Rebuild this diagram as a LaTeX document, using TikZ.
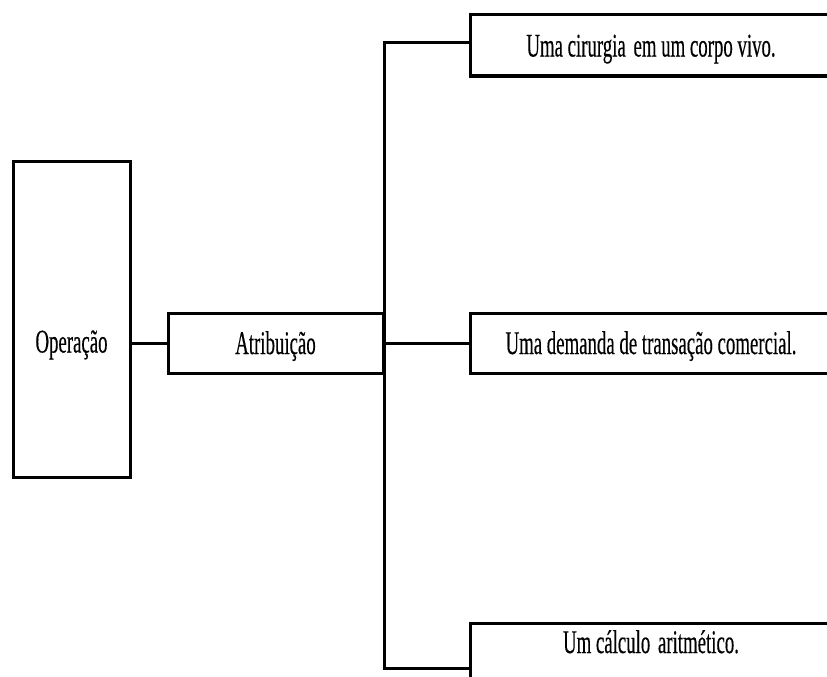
\documentclass[tikz,border=0pt]{standalone}
\usepackage{fontspec}
\newfontfamily\boxfont{Liberation Serif}[FakeStretch=0.57, FakeBold=0.3]
\begin{document}
\begin{tikzpicture}[x=1pt,y=-1pt,
  box/.style={draw=black, line width=3pt, inner sep=0pt, align=center,
    font=\boxfont\fontsize{33}{38}\selectfont, text height=22pt, text depth=0pt},
  link/.style={draw=black, line width=3pt}]
  \useasboundingbox (0,0) rectangle (827,677);
  \clip (0,0) rectangle (827,677);

  % root and first level
  \node[box, minimum width=117pt, minimum height=316pt, text height=67pt] (op) at (71.5,319) {Operação};
  \node[box, minimum width=215pt, minimum height=60pt] (atr) at (275.5,343) {Atribuição};

  % leaves (they run on past the right edge)
  \node[box, minimum width=362pt, minimum height=61pt] (top) at (651,45.5) {Uma cirurgia\hspace{3pt} em um corpo vivo.};
  \node[box, minimum width=362pt, minimum height=60pt] (mid) at (651,343) {Uma demanda de transação comercial.};
  \node[box, minimum width=362pt, minimum height=60pt, text depth=22pt] (bot) at (651,653) {Um cálculo\hspace{3pt} aritmético.};

  % bus ends
  \coordinate (bt) at (384,43);
  \coordinate (bb) at (384,668);

  % connectors
  \draw[link] (atr.west) -- (atr.west -| op.east);
  \draw[link] (atr.east) -- (mid.west);
  \draw[link] (top.west |- bt) -- (bt) -- (bb) -- (bot.west |- bb);
\end{tikzpicture}
\end{document}
